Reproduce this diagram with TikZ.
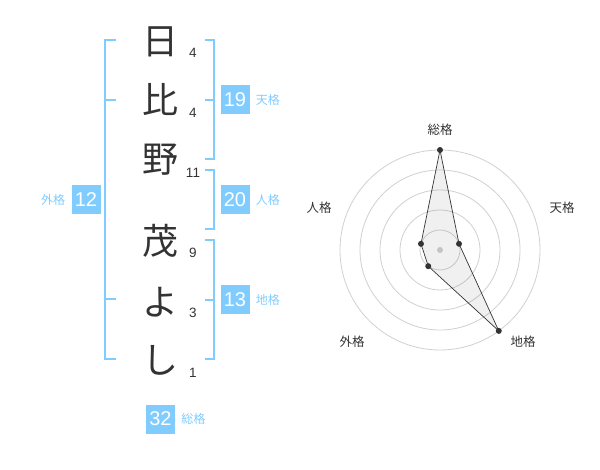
\documentclass[tikz,border=0pt]{standalone}
\usepackage{fontspec}
\setmainfont{Liberation Sans}
\newfontfamily\jpfont{Noto Sans CJK JP}
\usetikzlibrary{positioning}
\definecolor{kakublue}{RGB}{128,204,255}
\definecolor{inkgray}{RGB}{51,51,51}
\definecolor{ringgray}{RGB}{208,208,208}

\begin{document}
\begin{tikzpicture}[
  x=1pt, y=-1pt,
  every node/.style={inner sep=0pt},
  moji/.style={font=\jpfont\fontsize{36}{36}\selectfont, text=inkgray},
  kakusu/.style={font=\fontsize{13.5}{14}\selectfont, text=inkgray},
  numbox/.style={fill=kakublue, text=white, minimum width=29pt, minimum height=29pt,
                 font=\fontsize{20}{20}\selectfont},
  kakulabel/.style={font=\jpfont\fontsize{12}{12}\selectfont, text=kakublue},
  brk/.style={draw=kakublue, line width=2pt},
  ring/.style={draw=ringgray, line width=0.8pt},
  axislabel/.style={font=\jpfont\fontsize{12.5}{13}\selectfont, text=inkgray},
  dot/.style={circle, fill=inkgray, minimum size=6pt},
]
\useasboundingbox (0,0) rectangle (600,470);
% ---- name column: characters and stroke counts ----
\node[moji] at (160,42)  (m1) {日};
\node[moji] at (160,100) (m2) {比};
\node[moji] at (160,160) (m3) {野};
\node[moji] at (160,241) (m4) {茂};
\node[moji] at (160,302) (m5) {よ};
\node[moji] at (160,360) (m6) {し};
\node[kakusu] at (193,53)  (s1) {4};
\node[kakusu] at (193,113) (s2) {4};
\node[kakusu] at (193,173) (s3) {11};
\node[kakusu] at (193,253) (s4) {9};
\node[kakusu] at (193,313) (s5) {3};
\node[kakusu] at (193,373) (s6) {1};
% ---- brackets ----
\draw[brk] (116,40) -- (105,40) -- (105,359) -- (116,359);
\draw[brk] (105,100) -- (116,100);
\draw[brk] (105,299) -- (116,299);
\draw[brk] (205,40) -- (214,40) -- (214,159) -- (205,159);
\draw[brk] (214,100) -- (205,100);
\draw[brk] (205,170) -- (214,170) -- (214,229) -- (205,229);
\draw[brk] (205,240) -- (214,240) -- (214,359) -- (205,359);
\draw[brk] (214,300) -- (205,300);
% ---- totals ----
\node[numbox] at (86,200)    (gai) {12};
\node[numbox] at (235,100)   (ten) {19};
\node[numbox] at (235,200)   (jin) {20};
\node[numbox] at (235,300)   (chi) {13};
\node[numbox] at (160.5,419) (sou) {32};
\node[kakulabel, left=6pt of gai]  {外格};
\node[kakulabel, right=6pt of ten] {天格};
\node[kakulabel, right=6pt of jin] {人格};
\node[kakulabel, right=6pt of chi] {地格};
\node[kakulabel, right=6pt of sou] {総格};
% ---- radar chart ----
\begin{scope}[shift={(440,250)}, yscale=-1]
  \foreach \r in {20,40,...,100}
    \draw[ring] (0,0) circle (\r pt);
  \fill[ringgray] (0,0) circle (3pt);
  \coordinate (p-sou) at (90:100);
  \coordinate (p-ten) at (18:20);
  \coordinate (p-chi) at (-54:100);
  \coordinate (p-gai) at (-126:20);
  \coordinate (p-jin) at (162:20);
  \draw[draw=inkgray, line width=0.7pt, fill=black, fill opacity=0.06]
    (p-sou) -- (p-ten) -- (p-chi) -- (p-gai) -- (p-jin) -- cycle;
  \foreach \p in {sou,ten,chi,gai,jin}
    \node[dot] (d-\p) at (p-\p) {};
\end{scope}
\node[axislabel] at (440,130)   (a-sou) {総格};
\node[axislabel] at (562,208)   (a-ten) {天格};
\node[axislabel] at (319,208)   (a-jin) {人格};
\node[axislabel] at (352,342)   (a-gai) {外格};
\node[axislabel] at (523,342)   (a-chi) {地格};
\end{tikzpicture}
\end{document}
